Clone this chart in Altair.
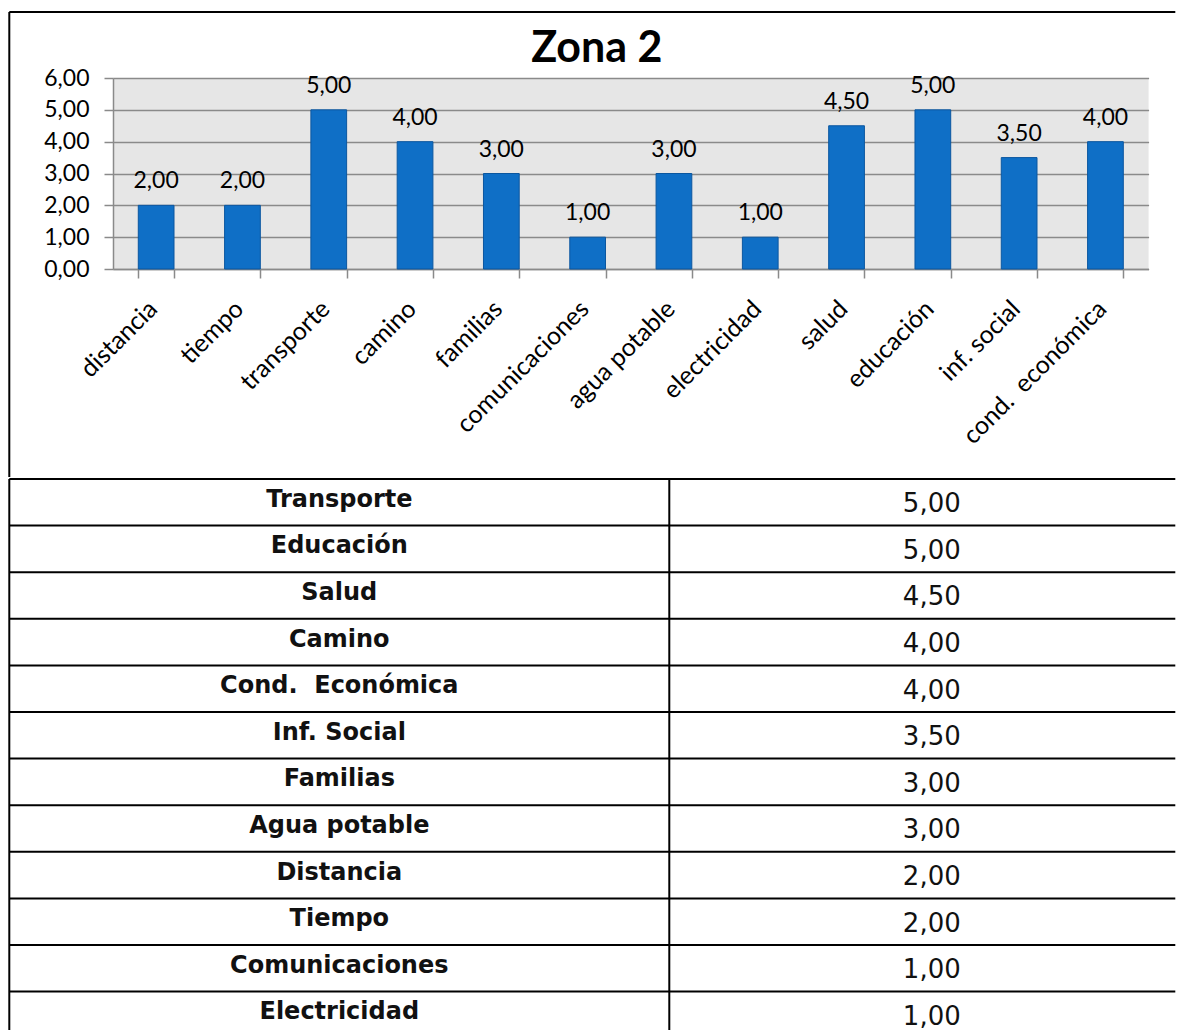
import altair as alt
import pandas as pd

# ---- data ----
categorias = ["distancia", "tiempo", "transporte", "camino", "familias",
              "comunicaciones", "agua potable", "electricidad", "salud",
              "educación", "inf. social", "cond.\u00a0 económica"]
valores = [2.0, 2.0, 5.0, 4.0, 3.0, 1.0, 3.0, 1.0, 4.5, 5.0, 3.5, 4.0]
y_ticks = [0, 1, 2, 3, 4, 5, 6]

tabla_nombres = ["Transporte", "Educación", "Salud", "Camino", "Cond.\u00a0 Económica",
                 "Inf. Social", "Familias", "Agua potable", "Distancia", "Tiempo",
                 "Comunicaciones", "Electricidad"]
tabla_valores = [5.0, 5.0, 4.5, 4.0, 4.0, 3.5, 3.0, 3.0, 2.0, 2.0, 1.0, 1.0]

# ---- styles ----
GRID = "#8a8a8a"
BAR = "#0f6fc6"
FONT = "Lato"
TFONT = "DejaVu Sans"
PLOT_W, PLOT_H = 1035.6, 191
ORIG = 104.7            # distance from the left frame line to the plot origin
RIGHT = 1167 - ORIG     # right end of lines, relative to plot origin
ROW_H = 46.6
N = len(tabla_nombres)
TABLE_H = ROW_H * N
fmt = "replace(format(datum.{f}, '.2f'), '.', ',')"

df = pd.DataFrame({"cat": categorias, "val": valores})
base = alt.Chart(df).transform_calculate(lbl=fmt.format(f="val"))

x_enc = alt.X(
    "cat:N", sort=categorias,
    scale=alt.Scale(paddingInner=0.586, paddingOuter=0.293),
    axis=alt.Axis(title=None, labelAngle=-45, labelAlign="right", labelBaseline="top",
                  labelFont=FONT, labelFontSize=25, labelColor="#000",
                  labelPadding=18, labelOffset=-12, labelLimit=400,
                  tickBand="extent", tickSize=9, tickColor=GRID, tickWidth=1.5,
                  domainColor=GRID, domainWidth=1.5, grid=False, labelOverlap=False),
)
y_enc = alt.Y(
    "val:Q", scale=alt.Scale(domain=[0, 6], nice=False),
    axis=alt.Axis(title=None, values=y_ticks, tickCount=7,
                  labelExpr="replace(format(datum.value, '.2f'), '.', ',')",
                  labelFont=FONT, labelFontSize=23, labelColor="#000", labelPadding=15,
                  labelOverlap=False,
                  tickSize=9, tickColor=GRID, tickWidth=1.5,
                  domainColor=GRID, domainWidth=1.5,
                  grid=True, gridColor=GRID, gridWidth=1.5, gridOpacity=1),
)

bars = base.mark_bar(color=BAR, stroke="#0b56a0", strokeWidth=1).encode(x=x_enc, y=y_enc)
etiquetas = base.mark_text(font=FONT, fontSize=23, baseline="alphabetic", dy=-17,
                           color="#000").encode(x=x_enc, y=y_enc, text="lbl:N")

marco = alt.Chart(pd.DataFrame({"k": [0]}))
top_line = marco.mark_rule(color="#000", strokeWidth=2).encode(
    x=alt.value(1 - ORIG), x2=alt.value(RIGHT), y=alt.value(-66))
left_line = marco.mark_rule(color="#000", strokeWidth=2).encode(
    x=alt.value(1 - ORIG), y=alt.value(-66), y2=alt.value(399))

grafico = alt.layer(bars, etiquetas, top_line, left_line).properties(
    width=PLOT_W, height=PLOT_H,
    title=alt.TitleParams("Zona 2", font=FONT, fontSize=43, fontWeight="bold",
                          color="#000", frame="group", anchor="middle",
                          baseline="alphabetic", offset=0, dy=94, dx=-34),
    view=alt.ViewBackground(fill="#e6e6e6", stroke=None),
)

# ---- table ----
tdf = pd.DataFrame({"row": list(range(N)), "nombre": tabla_nombres, "valor": tabla_valores})
yscale = alt.Scale(domain=[0, N], range=[0, TABLE_H], nice=False, zero=False)
colscale = alt.Scale(type="point", domain=["nombre", "valor"],
                     range=[339 - 8 - ORIG, 931.5 - 8 - ORIG], padding=0)

tbase = alt.Chart(tdf).transform_calculate(
    ypos="datum.row + 0.5", lbl=fmt.format(f="valor"))

col_izq = tbase.transform_calculate(col="'nombre'").mark_text(
    font=TFONT, fontWeight="bold", fontSize=24, dy=-2.5, color="#111"
).encode(x=alt.X("col:N", scale=colscale, axis=None),
         y=alt.Y("ypos:Q", scale=yscale, axis=None), text="nombre:N")
col_der = tbase.transform_calculate(col="'valor'").mark_text(
    font=TFONT, fontSize=26, dy=2, color="#111"
).encode(x=alt.X("col:N", scale=colscale, axis=None),
         y=alt.Y("ypos:Q", scale=yscale, axis=None), text="lbl:N")

bordes = alt.Chart(pd.DataFrame({"b": list(range(N + 1))}))
filas = bordes.mark_rule(color="#000", strokeWidth=2).encode(
    y=alt.Y("b:Q", scale=yscale, axis=None), x=alt.value(1 - ORIG), x2=alt.value(RIGHT))
divisor = marco.mark_rule(color="#000", strokeWidth=2).encode(
    x=alt.value(669 - 8 - ORIG), y=alt.value(0), y2=alt.value(TABLE_H))
borde_izq = marco.mark_rule(color="#000", strokeWidth=2).encode(
    x=alt.value(1 - ORIG), y=alt.value(0), y2=alt.value(TABLE_H))

tabla = alt.layer(filas, divisor, borde_izq, col_izq, col_der).properties(
    width=PLOT_W, height=TABLE_H,
    view=alt.ViewBackground(fill=None, stroke=None),
)

chart = alt.vconcat(grafico, tabla, spacing=0).properties(
    padding={"left": 0, "top": 3, "right": 0, "bottom": 0},
    background="white",
).configure_view(stroke=None)

chart.save("out.html", embed_options={"renderer": "svg", "actions": False})
